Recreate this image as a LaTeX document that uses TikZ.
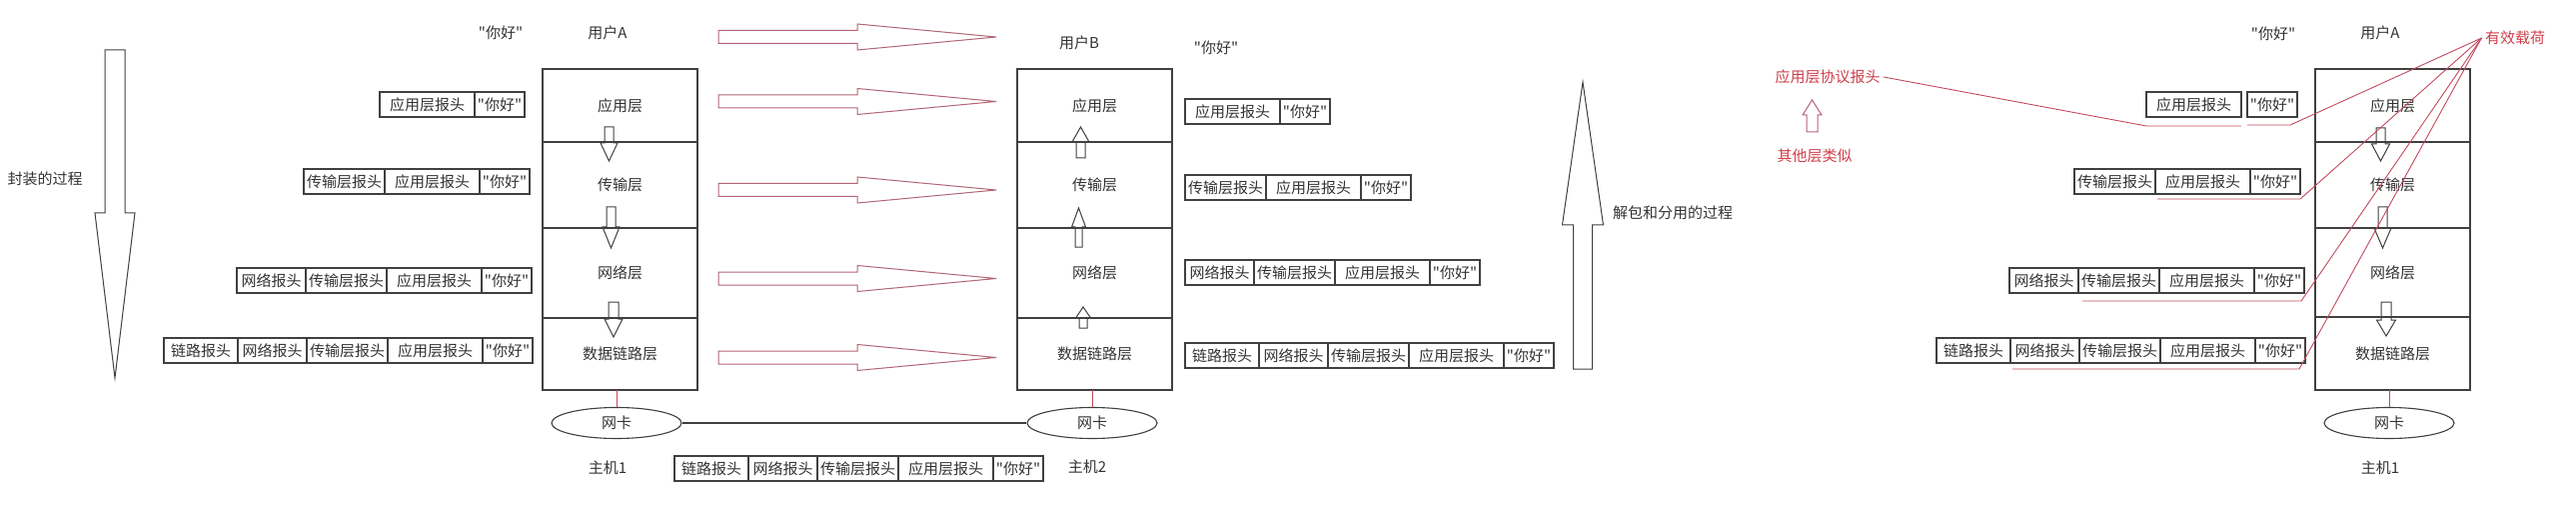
\documentclass[tikz,border=0pt]{standalone}
\usepackage{fontspec}
\newfontfamily\cjkfont{Noto Sans CJK SC}
\usetikzlibrary{positioning, shapes.geometric}

\definecolor{linegray}{HTML}{404040}
\definecolor{textgray}{HTML}{333333}
\definecolor{arrowred}{HTML}{B36474}
\definecolor{notered}{HTML}{CF3F4B}
\definecolor{linered}{HTML}{C24A5E}

% hollow block arrow: style, start x, start y, angle, length, shaft length, half shaft, half head
\newcommand{\hollowarrow}[8]{%
  \draw[#1, shift={(#2,#3)}, rotate=#4] (0,-#7) -- (#6,-#7) -- (#6,-#8) -- (#5,0)
    -- (#6,#8) -- (#6,#7) -- (0,#7) -- cycle;}

\begin{document}
\begin{tikzpicture}[x=1pt, y=-1pt, font=\cjkfont\fontsize{15pt}{18pt}\selectfont,
    every node/.append style={text=textgray},
    hdr/.style={draw=linegray, line width=1.1pt, outer sep=0pt, inner sep=0pt, minimum height=25pt},
    lkh/.style={hdr, minimum width=74pt},
    nwh/.style={hdr, minimum width=69pt},
    tph/.style={hdr, minimum width=81pt},
    aph/.style={hdr, minimum width=95pt},
    msgb/.style={hdr, minimum width=50pt},
    layer/.style={draw=linegray, line width=1.2pt, outer sep=0pt, inner sep=0pt, minimum width=155pt},
    nic/.style={ellipse, draw=linegray, line width=1.1pt, minimum width=130pt, minimum height=31pt, inner sep=0pt},
    note/.style={text=notered},
    redarrow/.style={draw=arrowred, line width=1pt},
    grayarrow/.style={draw=linegray, line width=1pt},
    payline/.style={draw=linered, line width=0.9pt},
    cable/.style={draw=linered, line width=0.8pt}]

    \fill[white] (0,0) rectangle (2578,513);
    \useasboundingbox (0,0) rectangle (2578,513);

    % Encapsulation
    \hollowarrow{grayarrow}{115}{50}{-90}{328}{163}{10}{20}
    \node (encap) at (45,179) {封装的过程};

    % Host 1
    \node (msgA) at (501,33) {"你好"};
    \node (userA) at (608,33) {用户A};
    \node[layer, anchor=north west, minimum height=73pt] (a-app) at (543,69) {应用层};
    \node[layer, minimum height=86pt, below=0pt of a-app] (a-tp) {传输层};
    \node[layer, minimum height=90pt, below=0pt of a-tp] (a-nw) {网络层};
    \node[layer, minimum height=72pt, below=0pt of a-nw] (a-lk) {数据链路层};
    \hollowarrow{grayarrow}{609.5}{127}{-90}{34}{16}{4.5}{8.5}
    \hollowarrow{grayarrow}{611.5}{207}{-90}{41}{20}{4.5}{8.5}
    \hollowarrow{grayarrow}{614}{302}{-90}{35}{17}{5}{9}
    \node[nic] (nicA) at (617,423) {网卡};
    \draw[cable] (nicA.north |- a-lk.south) -- (nicA.north);
    \node (hostA) at (608,468) {主机1};

    % Packets, host 1
    \node[aph, anchor=north west] (a1a) at (380,92) {应用层报头};
    \node[msgb, right=0pt of a1a] (a1m) {"你好"};

    \node[tph, anchor=north west] (a2t) at (304,169) {传输层报头};
    \node[aph, right=0pt of a2t] (a2a) {应用层报头};
    \node[msgb, right=0pt of a2a] (a2m) {"你好"};

    \node[nwh, anchor=north west] (a3n) at (237,268) {网络报头};
    \node[tph, right=0pt of a3n] (a3t) {传输层报头};
    \node[aph, right=0pt of a3t] (a3a) {应用层报头};
    \node[msgb, right=0pt of a3a] (a3m) {"你好"};

    \node[lkh, anchor=north west] (a4l) at (164,338) {链路报头};
    \node[nwh, right=0pt of a4l] (a4n) {网络报头};
    \node[tph, right=0pt of a4n] (a4t) {传输层报头};
    \node[aph, right=0pt of a4t] (a4a) {应用层报头};
    \node[msgb, right=0pt of a4a] (a4m) {"你好"};

    % Peer layers
    \foreach \y in {37,101.5,190,278.5,357.5}{
        \hollowarrow{redarrow}{719}{\y}{0}{278}{139}{6.5}{13}
    }

    % Host 2
    \node (userB) at (1080,43) {用户B};
    \node (msgB) at (1217,48) {"你好"};
    \node[layer, anchor=north west, minimum height=73pt] (b-app) at (1018,69) {应用层};
    \node[layer, minimum height=86pt, below=0pt of b-app] (b-tp) {传输层};
    \node[layer, minimum height=90pt, below=0pt of b-tp] (b-nw) {网络层};
    \node[layer, minimum height=72pt, below=0pt of b-nw] (b-lk) {数据链路层};
    \hollowarrow{grayarrow}{1081.5}{158}{90}{31}{16}{4.5}{8.5}
    \hollowarrow{grayarrow}{1079.5}{247}{90}{39}{20}{3.5}{7}
    \hollowarrow{grayarrow}{1084}{328}{90}{21}{10}{4}{7.5}
    \node[nic] (nicB) at (1093,423) {网卡};
    \draw[cable] (nicB.north |- b-lk.south) -- (nicB.north);
    \node (hostB) at (1088,467) {主机2};

    % Wire
    \draw[linegray, line width=1.1pt] (nicA.east) -- (nicB.west);
    \node[lkh, anchor=north west] (wl) at (675,456) {链路报头};
    \node[nwh, right=0pt of wl] (wn) {网络报头};
    \node[tph, right=0pt of wn] (wt) {传输层报头};
    \node[aph, right=0pt of wt] (wa) {应用层报头};
    \node[msgb, right=0pt of wa] (wm) {"你好"};

    % Packets, host 2
    \node[aph, anchor=north west] (b1a) at (1186,99) {应用层报头};
    \node[msgb, right=0pt of b1a] (b1m) {"你好"};

    \node[tph, anchor=north west] (b2t) at (1186,175) {传输层报头};
    \node[aph, right=0pt of b2t] (b2a) {应用层报头};
    \node[msgb, right=0pt of b2a] (b2m) {"你好"};

    \node[nwh, anchor=north west] (b3n) at (1186,260) {网络报头};
    \node[tph, right=0pt of b3n] (b3t) {传输层报头};
    \node[aph, right=0pt of b3t] (b3a) {应用层报头};
    \node[msgb, right=0pt of b3a] (b3m) {"你好"};

    \node[lkh, anchor=north west] (b4l) at (1186,343) {链路报头};
    \node[nwh, right=0pt of b4l] (b4n) {网络报头};
    \node[tph, right=0pt of b4n] (b4t) {传输层报头};
    \node[aph, right=0pt of b4t] (b4a) {应用层报头};
    \node[msgb, right=0pt of b4a] (b4m) {"你好"};

    % Decapsulation
    \hollowarrow{grayarrow}{1584}{369}{90}{287}{144}{9.5}{20.5}
    \node (decap) at (1674,213) {解包和分用的过程};

    % Notes
    \node[note] (proto) at (1829,77) {应用层协议报头};
    \hollowarrow{redarrow}{1813.5}{132}{90}{32}{17}{5.5}{9.5}
    \node[note] (others) at (1816,156) {其他层类似};

    % Host 1 again
    \node (msgC) at (2275,34) {"你好"};
    \node (userC) at (2382,33) {用户A};
    \node[note] (pay) at (2517,38) {有效载荷};
    \node[layer, anchor=north west, minimum height=73pt] (c-app) at (2317,69) {应用层};
    \node[layer, minimum height=86pt, below=0pt of c-app] (c-tp) {传输层};
    \node[layer, minimum height=89pt, below=0pt of c-tp] (c-nw) {网络层};
    \node[layer, minimum height=73pt, below=0pt of c-nw] (c-lk) {数据链路层};
    \hollowarrow{grayarrow}{2382.5}{128}{-90}{33}{16}{4.5}{9}
    \hollowarrow{grayarrow}{2384.5}{207}{-90}{41}{21}{4.5}{8.5}
    \hollowarrow{grayarrow}{2388}{302}{-90}{34}{18}{5}{9.5}
    \node[nic] (nicC) at (2391,423) {网卡};
    \draw[cable] (nicC.north |- c-lk.south) -- (nicC.north);
    \node (hostC) at (2382,468) {主机1};

    \node[aph, anchor=north west] (c1a) at (2148,92) {应用层报头};
    \node[msgb, right=6pt of c1a] (c1m) {"你好"};

    \node[tph, anchor=north west] (c2t) at (2076,169) {传输层报头};
    \node[aph, right=0pt of c2t] (c2a) {应用层报头};
    \node[msgb, right=0pt of c2a] (c2m) {"你好"};

    \node[nwh, anchor=north west] (c3n) at (2011,268) {网络报头};
    \node[tph, right=0pt of c3n] (c3t) {传输层报头};
    \node[aph, right=0pt of c3t] (c3a) {应用层报头};
    \node[msgb, right=0pt of c3a] (c3m) {"你好"};

    \node[lkh, anchor=north west] (c4l) at (1938,338) {链路报头};
    \node[nwh, right=0pt of c4l] (c4n) {网络报头};
    \node[tph, right=0pt of c4n] (c4t) {传输层报头};
    \node[aph, right=0pt of c4t] (c4a) {应用层报头};
    \node[msgb, right=0pt of c4a] (c4m) {"你好"};

    % Header and payload marks
    \draw[payline] (proto.east) -- ([yshift=-9pt]c1a.south west) -- ([yshift=-9pt]c1a.south east);
    \draw[payline] ([yshift=-8pt]c1m.south west) -- ([xshift=-7pt,yshift=-8pt]c1m.south east) -- (pay.west);
    \draw[payline] ([xshift=2pt,yshift=-5pt]c2a.south west) -- ([yshift=-5pt]c2m.south east) -- (pay.west);
    \draw[payline] ([xshift=4pt,yshift=-8pt]c3t.south west) -- ([xshift=-3pt,yshift=-8pt]c3m.south east) -- (pay.west);
    \draw[payline] ([xshift=2pt,yshift=-6pt]c4n.south west) -- ([xshift=-6pt,yshift=-6pt]c4m.south east) -- (pay.west);
\end{tikzpicture}
\end{document}
